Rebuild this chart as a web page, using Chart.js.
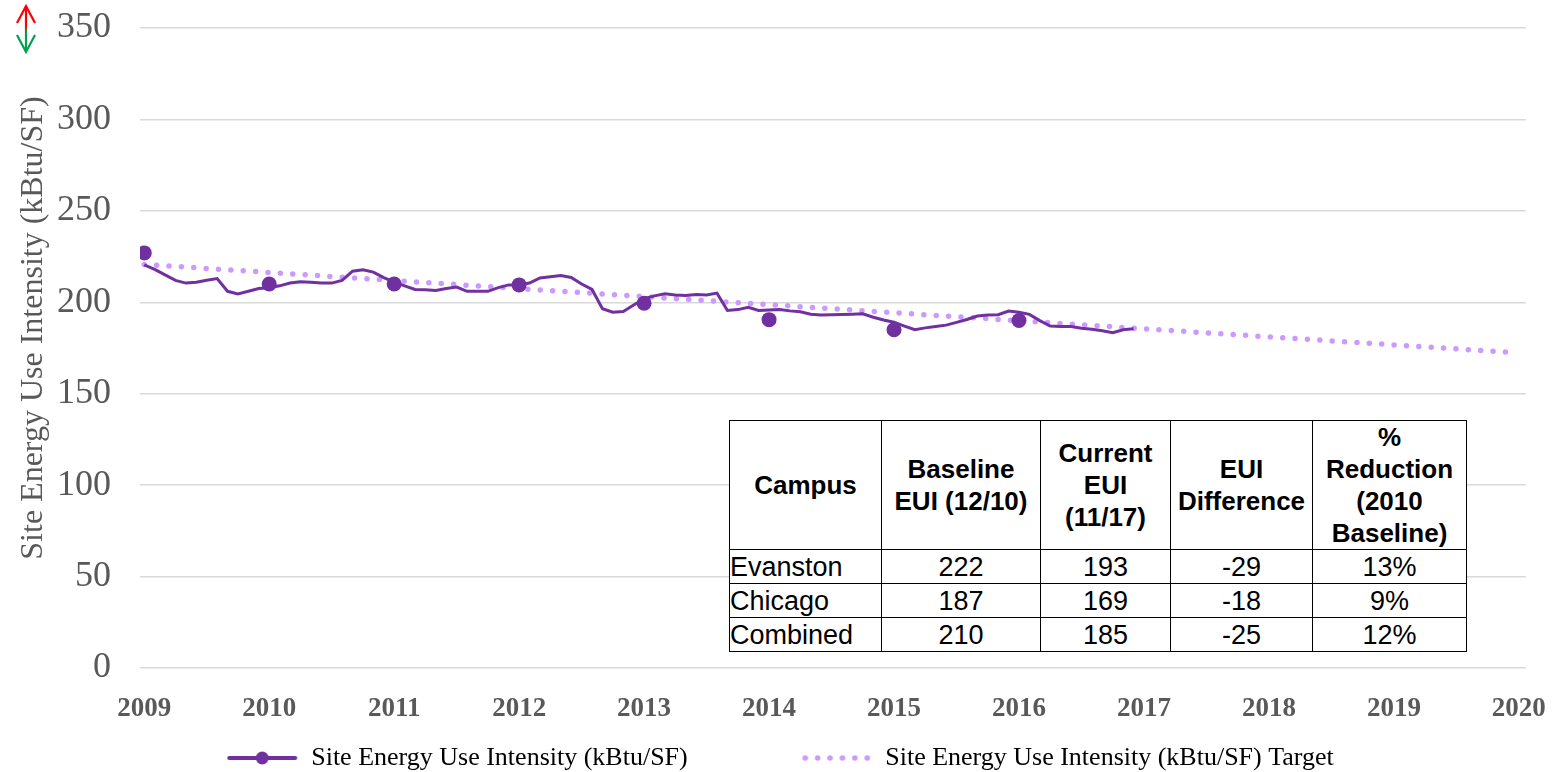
<!DOCTYPE html>
<html>
<head>
<meta charset="utf-8">
<script src="https://cdn.jsdelivr.net/npm/chart.js@4"></script>
<style>
    html, body { margin: 0; padding: 0; background: #fff; }
    #wrap { position: relative; width: 1563px; height: 772px; }
    #icon { position: absolute; left: 0; top: 0; }
    table.eui {
        position: absolute; left: 729px; top: 420px;
        border-collapse: collapse; background: #fff; color: #000;
        font-family: "Liberation Sans", Arial, sans-serif; font-size: 27px;
    }
    table.eui th, table.eui td { border: 1px solid #000; padding: 0; text-align: center; }
    table.eui th { font-weight: bold; font-size: 26px; line-height: 32px; height: 127px; }
    table.eui td { height: 33px; line-height: 32px; }
    table.eui td:first-child { text-align: left; }
</style>
</head>
<body>
<div id="wrap">
    <canvas id="chart" width="1563" height="772"></canvas>
    <svg id="icon" width="50" height="60">
        <defs>
            <linearGradient id="rg" gradientUnits="userSpaceOnUse" x1="26" y1="6" x2="26" y2="52">
                <stop offset="0.42" stop-color="#ff0000"/>
                <stop offset="0.58" stop-color="#00a050"/>
            </linearGradient>
        </defs>
        <path d="M26 6 L26 52" stroke="url(#rg)" stroke-width="2.2" fill="none"/>
        <path d="M17 23 L26 6 L35 23" stroke="#ff0000" stroke-width="2.2" fill="none"/>
        <path d="M17 35 L26 52 L35 35" stroke="#00a050" stroke-width="2.2" fill="none"/>
    </svg>
    <table class="eui" id="tbl"></table>
</div>
<script>
// monthly site EUI, Jan 2009 .. Dec 2016
var monthlyStart = 2009;
var monthlyValues = [
    220.5, 218, 215, 212, 210.5, 211, 212, 213, 206, 204.6, 206, 207.5,
    208, 209, 210.5, 211.2, 211, 210.6, 210.5, 212, 217, 217.8, 216.5, 213.5,
    211, 209, 207, 206.8, 206.5, 207.5, 208.3, 206, 206, 206, 208, 209.5,
    209.5, 210.5, 213.3, 214, 214.6, 213.6, 210, 207, 196.5, 194.6, 195, 198.5,
    202, 203.5, 204.6, 204, 203.7, 204.2, 204, 205, 195.5, 196, 197.3, 195.5,
    195.8, 196, 195.3, 194.8, 193.5, 193, 193.2, 193.3, 193.5, 193.7, 191.8, 190.3,
    189.1, 187, 185, 186, 186.8, 187.5, 189, 190.6, 192.5, 193, 193.2, 195.2,
    194.5, 193.4, 190, 187, 186.7, 186.7, 185.8, 185.2, 184.4, 183.4, 185, 185.5
];
var markerYears = [2009, 2010, 2011, 2012, 2013, 2014, 2015, 2016];
var markerValues = [227, 210, 210, 209.5, 199.5, 190.5, 185, 190];
var targetYears = [2009, 2010, 2011, 2012, 2013, 2014, 2015, 2016, 2017, 2018, 2019, 2019.917];
var targetValues = [220.7, 216.3, 211.9, 207.5, 203.1, 198.7, 194.3, 189.9, 185.5, 181.1, 176.7, 172.7];
var xTicks = [2009, 2010, 2011, 2012, 2013, 2014, 2015, 2016, 2017, 2018, 2019, 2020];
var yTicks = [0, 50, 100, 150, 200, 250, 300, 350];
var seriesNames = ['Site Energy Use Intensity (kBtu/SF)', 'Site Energy Use Intensity (kBtu/SF) Target'];
var yTitle = 'Site Energy Use Intensity (kBtu/SF)';

var tableHead = ['Campus', 'Baseline<br>EUI (12/10)', 'Current<br>EUI<br>(11/17)', 'EUI<br>Difference', '%<br>Reduction<br>(2010<br>Baseline)'];
var tableRows = [
    ['Evanston', '222', '193', '-29', '13%'],
    ['Chicago', '187', '169', '-18', '9%'],
    ['Combined', '210', '185', '-25', '12%']
];
var colWidths = [152, 159, 130, 142, 154];

var purple = '#7030a0';
var lilac = '#cc99ff';
var textGrey = '#595959';
var serif = '"Liberation Serif", "Times New Roman", serif';

// table overlay
var tbl = document.getElementById('tbl');
var html = '<colgroup>';
colWidths.forEach(function (w) { html += '<col style="width:' + w + 'px">'; });
html += '</colgroup><tr>';
tableHead.forEach(function (h) { html += '<th>' + h + '</th>'; });
html += '</tr>';
tableRows.forEach(function (r) {
    html += '<tr>';
    r.forEach(function (c) { html += '<td>' + c + '</td>'; });
    html += '</tr>';
});
tbl.innerHTML = html;

// legend samples
function lineSample() {
    var c = document.createElement('canvas');
    c.width = 72; c.height = 16;
    var g = c.getContext('2d');
    g.strokeStyle = purple; g.lineWidth = 4; g.lineCap = 'round';
    g.beginPath(); g.moveTo(3, 8); g.lineTo(69, 8); g.stroke();
    g.fillStyle = purple;
    g.beginPath(); g.arc(36, 8, 6.5, 0, Math.PI * 2); g.fill();
    return c;
}
function dotSample() {
    var c = document.createElement('canvas');
    c.width = 72; c.height = 16;
    var g = c.getContext('2d');
    g.fillStyle = lilac;
    for (var k = 0; k < 6; k++) {
        g.beginPath(); g.arc(5 + k * 12.4, 8, 2.8, 0, Math.PI * 2); g.fill();
    }
    return c;
}

var linePoints = monthlyValues.map(function (v, i) { return { x: monthlyStart + i / 12, y: v }; });
var markerPoints = markerYears.map(function (x, i) { return { x: x, y: markerValues[i] }; });
var targetPoints = targetYears.map(function (x, i) { return { x: x, y: targetValues[i] }; });

// nudge the legend so it sits where the original one does
var legendShift = {
    id: 'legendShift',
    afterLayout: function (chart) {
        chart.legend.left += 14;
        chart.legend.right += 14;
    }
};

Chart.defaults.font.family = serif;
Chart.defaults.color = textGrey;

new Chart(document.getElementById('chart'), {
    type: 'line',
    data: {
        datasets: [{
            label: seriesNames[0],
            data: linePoints,
            borderColor: purple,
            borderWidth: 3,
            pointRadius: 0,
            tension: 0,
            order: 2
        }, {
            label: seriesNames[1],
            data: targetPoints,
            borderColor: lilac,
            borderWidth: 5.5,
            borderDash: [0, 12.4],
            borderCapStyle: 'round',
            pointRadius: 0,
            order: 3
        }, {
            label: 'markers',
            data: markerPoints,
            showLine: false,
            pointRadius: 7.5,
            pointBackgroundColor: purple,
            pointBorderWidth: 0,
            order: 1
        }]
    },
    plugins: [legendShift],
    options: {
        responsive: false,
        animation: false,
        layout: { padding: { top: 28, right: 31, left: 0, bottom: -9 } },
        plugins: {
            tooltip: { enabled: false },
            legend: {
                position: 'bottom',
                labels: {
                    usePointStyle: true,
                    pointStyleWidth: 72,
                    padding: 2,
                    color: textGrey,
                    font: { size: 26 },
                    generateLabels: function () {
                        return [
                            { text: seriesNames[0] + '                 ', pointStyle: lineSample(), fillStyle: purple, strokeStyle: purple, lineWidth: 0, hidden: false, datasetIndex: 0 },
                            { text: seriesNames[1], pointStyle: dotSample(), fillStyle: lilac, strokeStyle: lilac, lineWidth: 0, hidden: false, datasetIndex: 1 }
                        ];
                    }
                }
            }
        },
        scales: {
            x: {
                type: 'linear',
                min: 2008.966,
                max: 2020.056,
                afterBuildTicks: function (scale) {
                    scale.ticks = xTicks.map(function (v) { return { value: v }; });
                },
                afterFit: function (scale) { scale.height = 75; },
                grid: { display: false },
                border: { display: false },
                ticks: {
                    autoSkip: false,
                    maxRotation: 0,
                    padding: 17,
                    color: textGrey,
                    font: { size: 27, weight: 'bold' },
                    callback: function (v) { return String(v); }
                }
            },
            y: {
                min: 0,
                max: 350,
                afterBuildTicks: function (scale) {
                    scale.ticks = yTicks.map(function (v) { return { value: v }; });
                },
                afterFit: function (scale) {
                    scale.width = 140;
                    scale.paddingTop = 0;
                    scale.paddingBottom = 0;
                },
                grid: { color: '#d9d9d9', lineWidth: 1.5, drawTicks: false },
                border: { display: false },
                ticks: {
                    padding: 29,
                    color: textGrey,
                    font: { size: 36 }
                },
                title: {
                    display: true,
                    text: '     ' + yTitle,
                    color: textGrey,
                    font: { size: 32 },
                    padding: { top: 14, bottom: 0 }
                }
            }
        }
    }
});
</script>
</body>
</html>
